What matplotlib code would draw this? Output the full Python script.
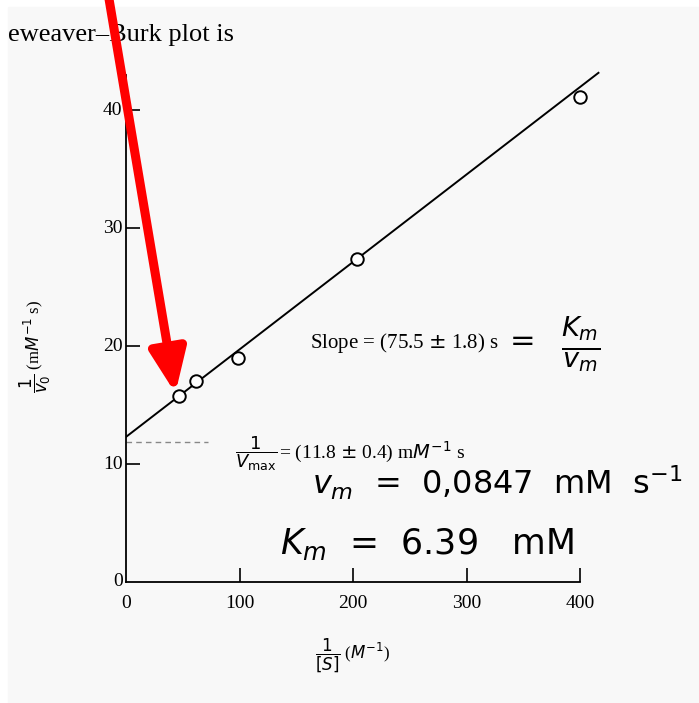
import matplotlib.pyplot as plt
import numpy as np

# Lineweaver-Burk data
inv_s = [47, 62, 99, 203, 400]          # 1/[S]  (M^-1)
inv_v = [15.8, 17.0, 19.0, 27.4, 41.1]  # 1/v0   (mM^-1 s)
fit_x = [0, 416]
intercept = 12.3
slope = 0.0742
x_ticks = [100, 200, 300, 400]
y_ticks = [10, 20, 30, 40]

serif = 'Liberation Serif'
hand = 'DejaVu Sans'

fig = plt.figure(figsize=(6.99, 7.03), dpi=100)
fig.patch.set_facecolor('white')
bg = plt.Rectangle((8 / 699, 0), 1, 1 - 7 / 703, transform=fig.transFigure,
                   color='#f8f8f8', zorder=-10)
fig.patches.append(bg)

ax = fig.add_axes([126 / 699, 121 / 703, 477 / 699, 519 / 703])
ax.set_facecolor('none')
ax.set_xlim(0, 420)
ax.set_ylim(0, 44)

# fitted line and data
fx = np.array(fit_x)
ax.plot(fx, intercept + slope * fx, color='black', lw=1.4, zorder=2)
ax.plot(inv_s, inv_v, 'o', ms=9, mfc='white', mec='black', mew=1.4, zorder=3)
ax.plot([0, 72], [11.9, 11.9], '--', color='#888888', lw=1.0, dashes=(4, 3))

# axes styling
for s in ['top', 'right']:
    ax.spines[s].set_visible(False)
ax.spines['left'].set_bounds(0, 43)
ax.spines['bottom'].set_bounds(0, 400)
ax.spines['left'].set_linewidth(1.3)
ax.spines['bottom'].set_linewidth(1.3)
ax.set_xticks(x_ticks)
ax.set_yticks(y_ticks)
ax.tick_params(direction='in', length=10, width=1.2)
ax.tick_params(axis='x', labelbottom=False)
ax.tick_params(axis='y', labelleft=False)
for t in y_ticks:
    ax.text(-3, t, str(t), ha='right', va='center', fontsize=14, family=serif)
ax.text(-3, 0, '0', ha='right', va='center', fontsize=14, family=serif)
for t in [0] + x_ticks:
    ax.text(t, -1.1, str(t), ha='center', va='top', fontsize=14, family=serif)

# axis labels
ax.text(-80, 20, r'$\dfrac{1}{v_0}$ (m$M^{-1}$ s)', rotation=90, ha='center',
        va='center', fontsize=12, family=serif)
ax.text(200, -6.2, r'$\dfrac{1}{[S]}$ ($M^{-1}$)', ha='center', va='center',
        fontsize=12, family=serif)

# printed annotations
ax.text(162, 20.3, r'Slope = (75.5 $\pm$ 1.8) s', fontsize=15, family=serif,
        va='center')
ax.text(96, 10.9, r'$\dfrac{1}{V_{\max}}$', fontsize=13, family=serif, va='center')
ax.text(135, 11.0, r'= (11.8 $\pm$ 0.4) m$M^{-1}$ s', fontsize=14,
        family=serif, va='center')

# handwritten notes
ax.text(338, 20.4, '=', fontsize=22, family=hand, va='center')
ax.text(400, 20.2, r'$\frac{K_m}{v_m}$', fontsize=28, family=hand,
        va='center', ha='center')
ax.text(164, 8.4, r'$v_m$  =  0,0847  mM  s$^{-1}$', fontsize=23, family=hand,
        va='center', clip_on=False)
ax.text(136, 3.2, r'$K_m$  =  6.39   mM', fontsize=25, family=hand, va='center')

# page text and red arrow
ax.text(8 / 699, 1 - 35 / 703, u'eweaver\u2013Burk plot is', transform=fig.transFigure,
        fontsize=19, family=serif, va='center', zorder=4, clip_on=False)
ax.annotate('', xy=(43.5, 16.0), xytext=(108 / 699, 1.01),
            textcoords='figure fraction',
            arrowprops=dict(arrowstyle='-|>,head_width=1.1,head_length=2.6',
                            lw=6.5, color='red', shrinkA=0, shrinkB=0),
            zorder=6, annotation_clip=False)

fig.savefig('out.png', dpi=100)
